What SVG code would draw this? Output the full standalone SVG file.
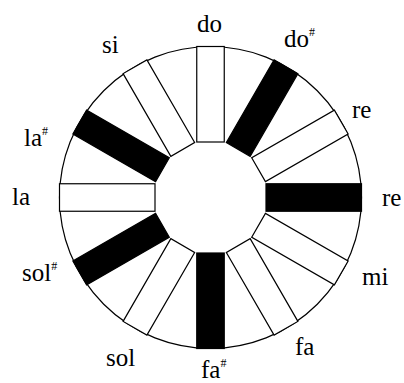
<svg xmlns="http://www.w3.org/2000/svg" width="404" height="383" viewBox="0 0 404 383">
<style>
.k{stroke:#000;stroke-width:1.2}
.w{fill:#fff}
.b{fill:#000}
text{font-family:"Liberation Serif","Times New Roman",serif;font-size:25px;fill:#000}
.s{font-size:12px}
</style>
<defs>
<rect id="key" x="-13.75" y="-151" width="27.5" height="95.5"/>
</defs>
<rect width="404" height="383" fill="#fff"/>
<g id="ring"><circle cx="210.5" cy="197.5" r="151" fill="#fff" stroke="#000" stroke-width="1.2"/></g>
<g id="connectors"></g>
<g transform="translate(210.5,197.5)">
<g id="k-do"><use href="#key" class="k w" transform="rotate(0)"/></g>
<g id="k-do-sharp"><use href="#key" class="k b" transform="rotate(30)"/></g>
<g id="k-re"><use href="#key" class="k w" transform="rotate(60)"/></g>
<g id="k-re-sharp"><use href="#key" class="k b" transform="rotate(90)"/></g>
<g id="k-mi"><use href="#key" class="k w" transform="rotate(120)"/></g>
<g id="k-fa"><use href="#key" class="k w" transform="rotate(150)"/></g>
<g id="k-fa-sharp"><use href="#key" class="k b" transform="rotate(180)"/></g>
<g id="k-sol"><use href="#key" class="k w" transform="rotate(210)"/></g>
<g id="k-sol-sharp"><use href="#key" class="k b" transform="rotate(240)"/></g>
<g id="k-la"><use href="#key" class="k w" transform="rotate(270)"/></g>
<g id="k-la-sharp"><use href="#key" class="k b" transform="rotate(300)"/></g>
<g id="k-si"><use href="#key" class="k w" transform="rotate(330)"/></g>
</g>
<g id="labels">
<text x="197" y="32">do</text>
<text x="284" y="47">do<tspan class="s" dy="-11">#</tspan></text>
<text x="352" y="118">re</text>
<text x="382" y="206">re</text>
<text x="362" y="285">mi</text>
<text x="295" y="355">fa</text>
<text x="201" y="378">fa<tspan class="s" dy="-11">#</tspan></text>
<text x="106" y="366">sol</text>
<text x="22" y="281">sol<tspan class="s" dy="-11">#</tspan></text>
<text x="12" y="205">la</text>
<text x="24" y="146">la<tspan class="s" dy="-11">#</tspan></text>
<text x="102" y="53">si</text>
</g>
</svg>
